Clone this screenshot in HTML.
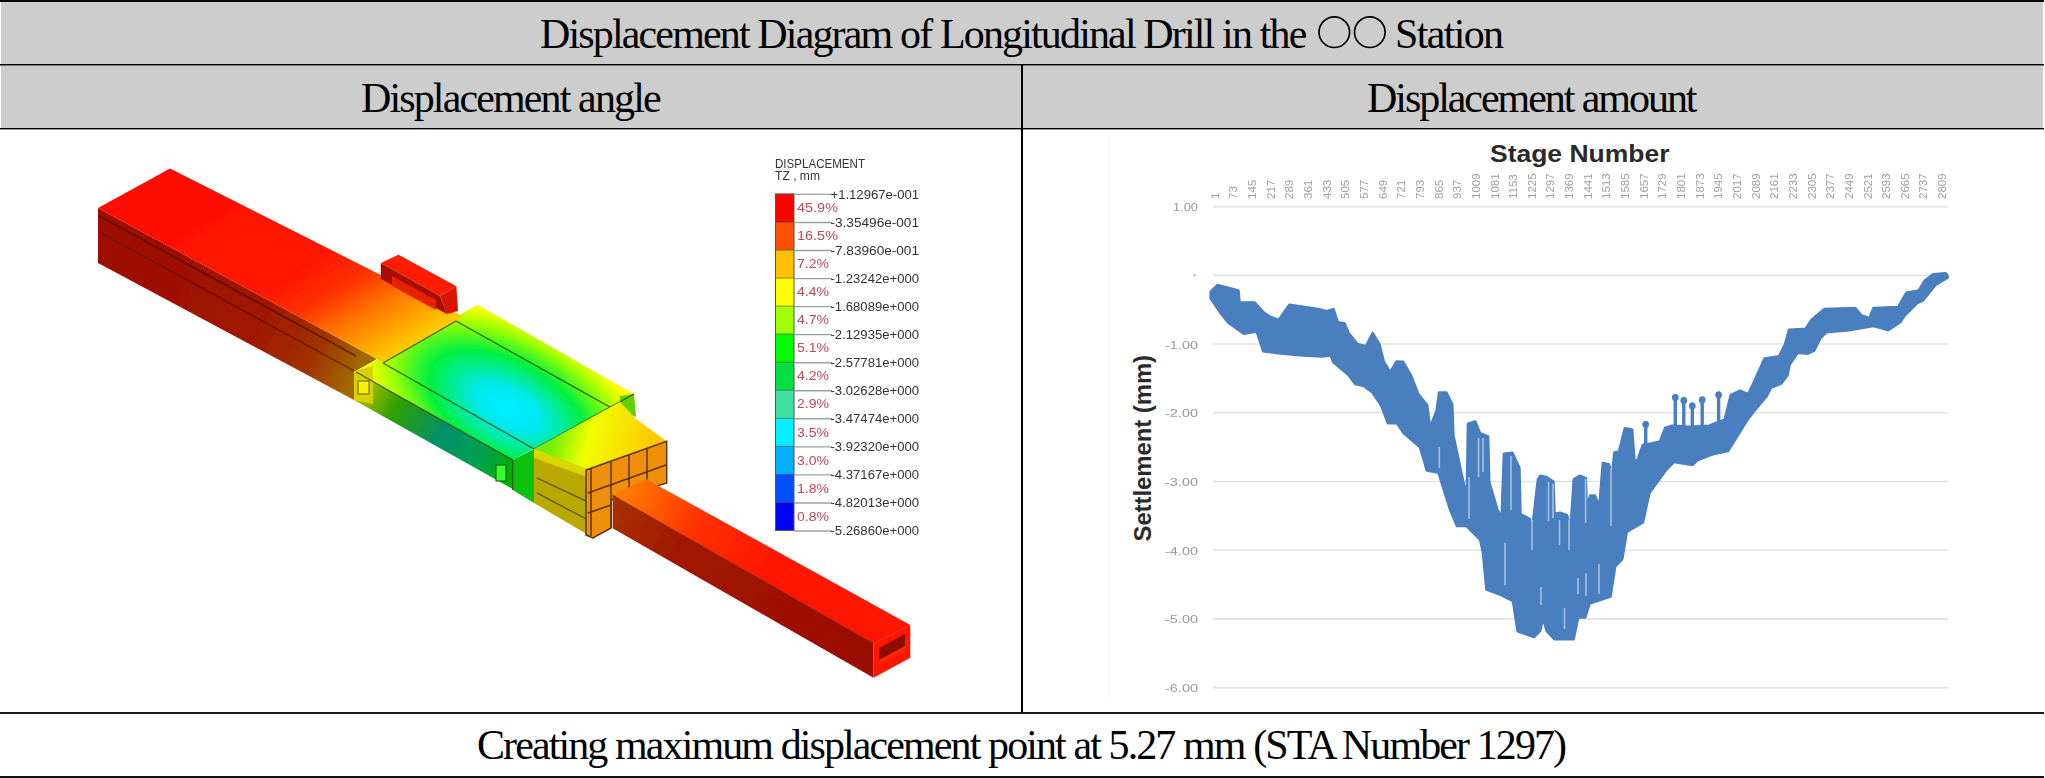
<!DOCTYPE html>
<html><head><meta charset="utf-8">
<style>
html,body{margin:0;padding:0;background:#fff;}
body{width:2045px;height:778px;position:relative;overflow:hidden;font-family:"Liberation Serif",serif;}
.a{position:absolute;}
.t{position:absolute;white-space:nowrap;font-size:42px;letter-spacing:-1.85px;color:#000;line-height:46px;}
svg text{font-family:"Liberation Sans",sans-serif;}
</style></head><body>
<div class="a" style="left:1px;top:2px;width:2042px;height:62px;background:#cdcdcd"></div>
<div class="a" style="left:1px;top:65px;width:2042px;height:63px;background:#cdcdcd"></div>
<div class="a" style="left:0;top:0;width:2044px;height:2px;background:#000"></div>
<div class="a" style="left:0;top:64px;width:2044px;height:1px;background:#000"></div>
<div class="a" style="left:0;top:65px;width:2044px;height:1px;background:#777"></div>
<div class="a" style="left:0;top:128px;width:2044px;height:1px;background:#000"></div>
<div class="a" style="left:0;top:129px;width:2044px;height:1px;background:#999"></div>
<div class="a" style="left:1021px;top:64px;width:2px;height:649px;background:#000"></div>
<div class="a" style="left:0;top:712px;width:2044px;height:2px;background:#1a1a1a"></div>
<div class="a" style="left:0;top:776px;width:2044px;height:2px;background:#111"></div>
<div class="t" style="left:540px;top:11px">Displacement Diagram of Longitudinal Drill in the</div>
<svg class="a" style="left:1310px;top:10px" width="85" height="45"><circle cx="24.3" cy="22.2" r="15.3" fill="none" stroke="#000" stroke-width="1.7"/><circle cx="59.8" cy="22.2" r="15.3" fill="none" stroke="#000" stroke-width="1.7"/></svg>
<div class="t" style="left:1395px;top:11px;letter-spacing:-1.65px">Station</div>
<div class="t" style="left:361px;top:75px;letter-spacing:-1.87px">Displacement angle</div>
<div class="t" style="left:1367px;top:75px;letter-spacing:-2.05px">Displacement amount</div>
<div class="t" style="left:477px;top:722px;letter-spacing:-1.9px">Creating maximum displacement point at 5.27 mm (STA Number 1297)</div>
<svg class="a" style="left:0;top:0" width="2045" height="778">
<g filter="url(#soft)">
<defs>
<filter id="soft" x="-5%" y="-5%" width="110%" height="110%"><feGaussianBlur stdDeviation="0.55"/></filter>
<linearGradient id="gTopA" gradientUnits="userSpaceOnUse" x1="230" y1="190" x2="350" y2="390">
 <stop offset="0" stop-color="#ff1000"/><stop offset="0.45" stop-color="#ff1800"/><stop offset="0.6" stop-color="#ff3000"/><stop offset="0.74" stop-color="#ff7000"/><stop offset="0.88" stop-color="#ffa800"/><stop offset="1" stop-color="#ffd800"/>
</linearGradient>
<linearGradient id="gFrontA" gradientUnits="userSpaceOnUse" x1="98" y1="235" x2="355" y2="375">
 <stop offset="0" stop-color="#9c0e00"/><stop offset="0.6" stop-color="#a01400"/><stop offset="0.85" stop-color="#a03400"/><stop offset="1" stop-color="#a06a00"/>
</linearGradient>
<radialGradient id="gTopMid" gradientUnits="userSpaceOnUse" cx="508" cy="408" r="120" gradientTransform="translate(508 408) rotate(29) scale(1.3 0.7) translate(-508 -408)">
 <stop offset="0" stop-color="#00f0ff"/><stop offset="0.22" stop-color="#00e8f0"/><stop offset="0.55" stop-color="#00f040"/><stop offset="0.82" stop-color="#a0ff00"/><stop offset="1" stop-color="#ffff00"/>
</radialGradient>
<linearGradient id="gFrontMid" gradientUnits="userSpaceOnUse" x1="356" y1="385" x2="512" y2="475">
 <stop offset="0" stop-color="#c8c800"/><stop offset="0.25" stop-color="#30a000"/><stop offset="0.55" stop-color="#00906a"/><stop offset="0.8" stop-color="#00a050"/><stop offset="1" stop-color="#00b000"/>
</linearGradient>
<linearGradient id="gTopR" gradientUnits="userSpaceOnUse" x1="555" y1="430" x2="650" y2="455">
 <stop offset="0" stop-color="#70f000"/><stop offset="0.35" stop-color="#f0ff00"/><stop offset="1" stop-color="#ffc800"/>
</linearGradient>
<linearGradient id="gTopC" gradientUnits="userSpaceOnUse" x1="630" y1="490" x2="780" y2="570">
 <stop offset="0" stop-color="#ff7800"/><stop offset="0.45" stop-color="#ff3000"/><stop offset="1" stop-color="#ff1400"/>
</linearGradient>
<linearGradient id="gFrontC" gradientUnits="userSpaceOnUse" x1="612" y1="510" x2="873" y2="660">
 <stop offset="0" stop-color="#a83000"/><stop offset="0.3" stop-color="#a01400"/><stop offset="1" stop-color="#9a0e00"/>
</linearGradient>
</defs>
<!-- beam A -->
<polygon points="98,208 377,359 356,371 354,400 98,263" fill="url(#gFrontA)"/>
<line x1="99" y1="216" x2="356" y2="356" stroke="#4a0600" stroke-width="1.6" opacity="0.7"/>
<line x1="99" y1="232" x2="356" y2="372" stroke="#4a0600" stroke-width="1.4" opacity="0.55"/>
<!-- mid box top -->
<polygon points="477.6,304.8 634,394 512.7,460 356,371" fill="url(#gTopMid)"/>
<!-- beam A top -->
<polygon points="98,208 170,168.4 462,316 456,321 383,363 377,359" fill="url(#gTopA)"/>
<!-- tab B -->
<polygon points="380.8,263.1 398.5,254.7 456.4,286.3 440,296" fill="#ff1c00"/>
<polygon points="380.8,263.1 440,296 447,314 380.8,279" fill="#a80e00"/>
<polygon points="392,276 436,300 436,310 392,286" fill="#e82000"/>
<polygon points="440,296 456.4,286.3 458,311 447,314" fill="#d81800"/>
<!-- mid box front -->
<polygon points="356,372 512.7,460 512.7,489 354,400" fill="url(#gFrontMid)"/>
<polygon points="354,371 373,366 373,404 354,400" fill="#d8d000"/>
<rect x="358" y="381" width="11" height="13" fill="#f8f000" stroke="#606000" stroke-width="1"/>
<polygon points="512.7,460 534,449 534,503 512.7,490" fill="#10c010"/>
<rect x="496" y="465" width="10" height="16" fill="#30ff30" stroke="#205000" stroke-width="1"/>
<polygon points="620,396 634,394 636,417 620,410" fill="#60d000"/>
<g stroke="#2a4a00" stroke-width="1.3" fill="none" opacity="0.85">
<line x1="456" y1="321" x2="383" y2="363"/>
<line x1="456" y1="321" x2="610" y2="407"/>
<line x1="383" y1="363" x2="534" y2="449"/>
<line x1="634" y1="394" x2="534" y2="449"/>
<line x1="356" y1="372" x2="512.7" y2="460"/>
<line x1="512.7" y1="460" x2="512.7" y2="490"/>
</g>
<!-- right box -->
<polygon points="534,449 620,402 636,419 666.7,441.3 590,470.3" fill="url(#gTopR)"/>
<polygon points="534,449 590,470.3 592.6,537.4 534,503" fill="#b8a800"/>
<polygon points="534,449 590,470.3 590,478 534,458" fill="#d8d800"/>
<line x1="537" y1="478" x2="590" y2="503" stroke="#504800" stroke-width="1.2"/>
<line x1="537" y1="493" x2="590" y2="521" stroke="#504800" stroke-width="1.2"/>
<polygon points="586,470 666.7,441.3 666.7,483 611,500 611,528 593,538 586,535" fill="#ef9010"/>
<g stroke="#5e3200" stroke-width="1.5" fill="none">
<polyline points="586,470 666.7,441.3 666.7,483 611,500 611,528 593,538 586,535 586,470"/>
<line x1="588" y1="493" x2="666" y2="465"/><line x1="588" y1="513" x2="611" y2="505"/>
<line x1="591" y1="468" x2="591" y2="536"/><line x1="611" y1="462" x2="611" y2="528"/><line x1="629" y1="455" x2="629" y2="494"/><line x1="647" y1="448" x2="647" y2="488"/>
</g>
<!-- tube C -->
<polygon points="612.6,495.3 645.6,478.8 910.3,625.1 873.5,643.5" fill="url(#gTopC)"/>
<polygon points="612.6,495.3 873.5,643.5 873.5,677.8 612.6,528.2" fill="url(#gFrontC)"/>
<line x1="612.6" y1="495.3" x2="873.5" y2="643.5" stroke="#6a0800" stroke-width="1" opacity="0.6"/>
<polygon points="873.5,643.5 910.3,625.1 910.3,657.7 873.5,677.8" fill="#ff1400"/>
<polygon points="879,648 905,634 905,649 879,663" fill="#8a0a00"/>
<polygon points="879,660 905,646 905,651 879,665" fill="#ff2800"/>
</g>
<g filter="url(#soft)"><rect x="775.5" y="193.9" width="18.5" height="28.1" fill="#ff0000"/>
<rect x="775.5" y="222.0" width="18.5" height="28.1" fill="#ff5000"/>
<rect x="775.5" y="250.0" width="18.5" height="28.1" fill="#ffc000"/>
<rect x="775.5" y="278.1" width="18.5" height="28.1" fill="#ffff00"/>
<rect x="775.5" y="306.1" width="18.5" height="28.1" fill="#a0ff00"/>
<rect x="775.5" y="334.1" width="18.5" height="28.1" fill="#00ff00"/>
<rect x="775.5" y="362.2" width="18.5" height="28.1" fill="#00e040"/>
<rect x="775.5" y="390.2" width="18.5" height="28.1" fill="#40e0a0"/>
<rect x="775.5" y="418.3" width="18.5" height="28.1" fill="#00f0ff"/>
<rect x="775.5" y="446.4" width="18.5" height="28.1" fill="#00b0ff"/>
<rect x="775.5" y="474.4" width="18.5" height="28.1" fill="#0050ff"/>
<rect x="775.5" y="502.5" width="18.5" height="28.1" fill="#0000ff"/>
<rect x="775.5" y="193.9" width="18.5" height="336.6" fill="none" stroke="#555" stroke-width="1"/>
<line x1="776" y1="222.0" x2="794" y2="222.0" stroke="#333" stroke-width="1" opacity="0.55"/>
<line x1="776" y1="250.0" x2="794" y2="250.0" stroke="#333" stroke-width="1" opacity="0.55"/>
<line x1="776" y1="278.1" x2="794" y2="278.1" stroke="#333" stroke-width="1" opacity="0.55"/>
<line x1="776" y1="306.1" x2="794" y2="306.1" stroke="#333" stroke-width="1" opacity="0.55"/>
<line x1="776" y1="334.1" x2="794" y2="334.1" stroke="#333" stroke-width="1" opacity="0.55"/>
<line x1="776" y1="362.2" x2="794" y2="362.2" stroke="#333" stroke-width="1" opacity="0.55"/>
<line x1="776" y1="390.2" x2="794" y2="390.2" stroke="#333" stroke-width="1" opacity="0.55"/>
<line x1="776" y1="418.3" x2="794" y2="418.3" stroke="#333" stroke-width="1" opacity="0.55"/>
<line x1="776" y1="446.4" x2="794" y2="446.4" stroke="#333" stroke-width="1" opacity="0.55"/>
<line x1="776" y1="474.4" x2="794" y2="474.4" stroke="#333" stroke-width="1" opacity="0.55"/>
<line x1="776" y1="502.5" x2="794" y2="502.5" stroke="#333" stroke-width="1" opacity="0.55"/>
<line x1="794" y1="194.4" x2="832" y2="194.4" stroke="#9aa0a0" stroke-width="1.4"/>
<text x="830.5" y="198.5" font-size="12.5" fill="#333" textLength="88.5" lengthAdjust="spacingAndGlyphs">+1.12967e-001</text>
<line x1="794" y1="222.5" x2="832" y2="222.5" stroke="#9aa0a0" stroke-width="1.4"/>
<text x="830.5" y="226.6" font-size="12.5" fill="#333" textLength="88.5" lengthAdjust="spacingAndGlyphs">-3.35496e-001</text>
<line x1="794" y1="250.5" x2="832" y2="250.5" stroke="#9aa0a0" stroke-width="1.4"/>
<text x="830.5" y="254.6" font-size="12.5" fill="#333" textLength="88.5" lengthAdjust="spacingAndGlyphs">-7.83960e-001</text>
<line x1="794" y1="278.6" x2="832" y2="278.6" stroke="#9aa0a0" stroke-width="1.4"/>
<text x="830.5" y="282.7" font-size="12.5" fill="#333" textLength="88.5" lengthAdjust="spacingAndGlyphs">-1.23242e+000</text>
<line x1="794" y1="306.6" x2="832" y2="306.6" stroke="#9aa0a0" stroke-width="1.4"/>
<text x="830.5" y="310.7" font-size="12.5" fill="#333" textLength="88.5" lengthAdjust="spacingAndGlyphs">-1.68089e+000</text>
<line x1="794" y1="334.6" x2="832" y2="334.6" stroke="#9aa0a0" stroke-width="1.4"/>
<text x="830.5" y="338.8" font-size="12.5" fill="#333" textLength="88.5" lengthAdjust="spacingAndGlyphs">-2.12935e+000</text>
<line x1="794" y1="362.7" x2="832" y2="362.7" stroke="#9aa0a0" stroke-width="1.4"/>
<text x="830.5" y="366.8" font-size="12.5" fill="#333" textLength="88.5" lengthAdjust="spacingAndGlyphs">-2.57781e+000</text>
<line x1="794" y1="390.8" x2="832" y2="390.8" stroke="#9aa0a0" stroke-width="1.4"/>
<text x="830.5" y="394.9" font-size="12.5" fill="#333" textLength="88.5" lengthAdjust="spacingAndGlyphs">-3.02628e+000</text>
<line x1="794" y1="418.8" x2="832" y2="418.8" stroke="#9aa0a0" stroke-width="1.4"/>
<text x="830.5" y="422.9" font-size="12.5" fill="#333" textLength="88.5" lengthAdjust="spacingAndGlyphs">-3.47474e+000</text>
<line x1="794" y1="446.9" x2="832" y2="446.9" stroke="#9aa0a0" stroke-width="1.4"/>
<text x="830.5" y="451.0" font-size="12.5" fill="#333" textLength="88.5" lengthAdjust="spacingAndGlyphs">-3.92320e+000</text>
<line x1="794" y1="474.9" x2="832" y2="474.9" stroke="#9aa0a0" stroke-width="1.4"/>
<text x="830.5" y="479.0" font-size="12.5" fill="#333" textLength="88.5" lengthAdjust="spacingAndGlyphs">-4.37167e+000</text>
<line x1="794" y1="503.0" x2="832" y2="503.0" stroke="#9aa0a0" stroke-width="1.4"/>
<text x="830.5" y="507.1" font-size="12.5" fill="#333" textLength="88.5" lengthAdjust="spacingAndGlyphs">-4.82013e+000</text>
<line x1="794" y1="531.0" x2="832" y2="531.0" stroke="#9aa0a0" stroke-width="1.4"/>
<text x="830.5" y="535.1" font-size="12.5" fill="#333" textLength="88.5" lengthAdjust="spacingAndGlyphs">-5.26860e+000</text>
<text x="797" y="212.1" font-size="13" fill="#c04858" textLength="41" lengthAdjust="spacingAndGlyphs">45.9%</text>
<text x="797" y="240.2" font-size="13" fill="#c04858" textLength="41" lengthAdjust="spacingAndGlyphs">16.5%</text>
<text x="797" y="268.2" font-size="13" fill="#c04858" textLength="32" lengthAdjust="spacingAndGlyphs">7.2%</text>
<text x="797" y="296.2" font-size="13" fill="#c04858" textLength="32" lengthAdjust="spacingAndGlyphs">4.4%</text>
<text x="797" y="324.3" font-size="13" fill="#c04858" textLength="32" lengthAdjust="spacingAndGlyphs">4.7%</text>
<text x="797" y="352.3" font-size="13" fill="#c04858" textLength="32" lengthAdjust="spacingAndGlyphs">5.1%</text>
<text x="797" y="380.4" font-size="13" fill="#c04858" textLength="32" lengthAdjust="spacingAndGlyphs">4.2%</text>
<text x="797" y="408.4" font-size="13" fill="#c04858" textLength="32" lengthAdjust="spacingAndGlyphs">2.9%</text>
<text x="797" y="436.5" font-size="13" fill="#c04858" textLength="32" lengthAdjust="spacingAndGlyphs">3.5%</text>
<text x="797" y="464.6" font-size="13" fill="#c04858" textLength="32" lengthAdjust="spacingAndGlyphs">3.0%</text>
<text x="797" y="492.6" font-size="13" fill="#c04858" textLength="32" lengthAdjust="spacingAndGlyphs">1.8%</text>
<text x="797" y="520.7" font-size="13" fill="#c04858" textLength="32" lengthAdjust="spacingAndGlyphs">0.8%</text>
<text x="775" y="167.5" font-size="12" fill="#333" textLength="90" lengthAdjust="spacingAndGlyphs">DISPLACEMENT</text>
<text x="775" y="180" font-size="12" fill="#333" textLength="45" lengthAdjust="spacingAndGlyphs">TZ , mm</text>
</g>
<line x1="1108.5" y1="134" x2="1108.5" y2="700" stroke="#f6f6f6" stroke-width="1"/>
<line x1="1213" y1="206.6" x2="1948" y2="206.6" stroke="#e3e3e3" stroke-width="1.6"/>
<line x1="1213" y1="275.3" x2="1948" y2="275.3" stroke="#e3e3e3" stroke-width="1.6"/>
<line x1="1213" y1="344.0" x2="1948" y2="344.0" stroke="#e3e3e3" stroke-width="1.6"/>
<line x1="1213" y1="412.7" x2="1948" y2="412.7" stroke="#e3e3e3" stroke-width="1.6"/>
<line x1="1213" y1="481.5" x2="1948" y2="481.5" stroke="#e3e3e3" stroke-width="1.6"/>
<line x1="1213" y1="550.2" x2="1948" y2="550.2" stroke="#e3e3e3" stroke-width="1.6"/>
<line x1="1213" y1="618.9" x2="1948" y2="618.9" stroke="#e3e3e3" stroke-width="1.6"/>
<line x1="1213" y1="687.6" x2="1948" y2="687.6" stroke="#e3e3e3" stroke-width="1.6"/>

<g filter="url(#soft)"><text x="1173" y="211.1" font-size="11" fill="#999" textLength="25" lengthAdjust="spacingAndGlyphs">1.00</text>
<rect x="1193.5" y="274.3" width="2" height="2" fill="#aaa"/>
<text x="1165" y="348.5" font-size="11" fill="#999" textLength="33" lengthAdjust="spacingAndGlyphs">-1.00</text>
<text x="1165" y="417.2" font-size="11" fill="#999" textLength="33" lengthAdjust="spacingAndGlyphs">-2.00</text>
<text x="1165" y="486.0" font-size="11" fill="#999" textLength="33" lengthAdjust="spacingAndGlyphs">-3.00</text>
<text x="1165" y="554.7" font-size="11" fill="#999" textLength="33" lengthAdjust="spacingAndGlyphs">-4.00</text>
<text x="1165" y="623.4" font-size="11" fill="#999" textLength="33" lengthAdjust="spacingAndGlyphs">-5.00</text>
<text x="1165" y="692.1" font-size="11" fill="#999" textLength="33" lengthAdjust="spacingAndGlyphs">-6.00</text>

<text transform="translate(1218.7,199) rotate(-90)" font-size="11.5" fill="#a0a0a0">1</text>
<text transform="translate(1237.4,199) rotate(-90)" font-size="11.5" fill="#a0a0a0">73</text>
<text transform="translate(1256.0,199) rotate(-90)" font-size="11.5" fill="#a0a0a0">145</text>
<text transform="translate(1274.7,199) rotate(-90)" font-size="11.5" fill="#a0a0a0">217</text>
<text transform="translate(1293.3,199) rotate(-90)" font-size="11.5" fill="#a0a0a0">289</text>
<text transform="translate(1312.0,199) rotate(-90)" font-size="11.5" fill="#a0a0a0">361</text>
<text transform="translate(1330.6,199) rotate(-90)" font-size="11.5" fill="#a0a0a0">433</text>
<text transform="translate(1349.2,199) rotate(-90)" font-size="11.5" fill="#a0a0a0">505</text>
<text transform="translate(1367.9,199) rotate(-90)" font-size="11.5" fill="#a0a0a0">577</text>
<text transform="translate(1386.5,199) rotate(-90)" font-size="11.5" fill="#a0a0a0">649</text>
<text transform="translate(1405.2,199) rotate(-90)" font-size="11.5" fill="#a0a0a0">721</text>
<text transform="translate(1423.8,199) rotate(-90)" font-size="11.5" fill="#a0a0a0">793</text>
<text transform="translate(1442.5,199) rotate(-90)" font-size="11.5" fill="#a0a0a0">865</text>
<text transform="translate(1461.2,199) rotate(-90)" font-size="11.5" fill="#a0a0a0">937</text>
<text transform="translate(1479.8,199) rotate(-90)" font-size="11.5" fill="#a0a0a0">1009</text>
<text transform="translate(1498.5,199) rotate(-90)" font-size="11.5" fill="#a0a0a0">1081</text>
<text transform="translate(1517.1,199) rotate(-90)" font-size="11.5" fill="#a0a0a0">1153</text>
<text transform="translate(1535.8,199) rotate(-90)" font-size="11.5" fill="#a0a0a0">1225</text>
<text transform="translate(1554.4,199) rotate(-90)" font-size="11.5" fill="#a0a0a0">1297</text>
<text transform="translate(1573.0,199) rotate(-90)" font-size="11.5" fill="#a0a0a0">1369</text>
<text transform="translate(1591.7,199) rotate(-90)" font-size="11.5" fill="#a0a0a0">1441</text>
<text transform="translate(1610.3,199) rotate(-90)" font-size="11.5" fill="#a0a0a0">1513</text>
<text transform="translate(1629.0,199) rotate(-90)" font-size="11.5" fill="#a0a0a0">1585</text>
<text transform="translate(1647.7,199) rotate(-90)" font-size="11.5" fill="#a0a0a0">1657</text>
<text transform="translate(1666.3,199) rotate(-90)" font-size="11.5" fill="#a0a0a0">1729</text>
<text transform="translate(1685.0,199) rotate(-90)" font-size="11.5" fill="#a0a0a0">1801</text>
<text transform="translate(1703.6,199) rotate(-90)" font-size="11.5" fill="#a0a0a0">1873</text>
<text transform="translate(1722.2,199) rotate(-90)" font-size="11.5" fill="#a0a0a0">1945</text>
<text transform="translate(1740.9,199) rotate(-90)" font-size="11.5" fill="#a0a0a0">2017</text>
<text transform="translate(1759.5,199) rotate(-90)" font-size="11.5" fill="#a0a0a0">2089</text>
<text transform="translate(1778.2,199) rotate(-90)" font-size="11.5" fill="#a0a0a0">2161</text>
<text transform="translate(1796.8,199) rotate(-90)" font-size="11.5" fill="#a0a0a0">2233</text>
<text transform="translate(1815.5,199) rotate(-90)" font-size="11.5" fill="#a0a0a0">2305</text>
<text transform="translate(1834.2,199) rotate(-90)" font-size="11.5" fill="#a0a0a0">2377</text>
<text transform="translate(1852.8,199) rotate(-90)" font-size="11.5" fill="#a0a0a0">2449</text>
<text transform="translate(1871.5,199) rotate(-90)" font-size="11.5" fill="#a0a0a0">2521</text>
<text transform="translate(1890.1,199) rotate(-90)" font-size="11.5" fill="#a0a0a0">2593</text>
<text transform="translate(1908.8,199) rotate(-90)" font-size="11.5" fill="#a0a0a0">2665</text>
<text transform="translate(1927.4,199) rotate(-90)" font-size="11.5" fill="#a0a0a0">2737</text>
<text transform="translate(1946.0,199) rotate(-90)" font-size="11.5" fill="#a0a0a0">2809</text>
</g>
<text x="1490" y="161.5" font-size="23" font-weight="bold" fill="#2a2a2a" textLength="179.5" lengthAdjust="spacingAndGlyphs">Stage Number</text>
<text transform="translate(1150.5,541.5) rotate(-90)" font-size="23" font-weight="bold" fill="#2a2a2a" textLength="186.5" lengthAdjust="spacingAndGlyphs">Settlement (mm)</text>
<g filter="url(#soft)"><polygon points="1210.9,291.9 1217.5,285.3 1238.3,290.8 1239.3,302.8 1254.6,302.8 1263.4,312.6 1270,317 1278.7,320.3 1286.3,309.3 1289.6,305 1318,309.3 1326.8,311.5 1333.3,309.3 1337.7,322.5 1344.3,323.6 1348.6,333.4 1357.4,344.3 1366.1,346.5 1372.7,333.4 1379.2,344.3 1383.6,361.8 1390.2,372.7 1396.7,361.8 1403,362 1411,376 1418,394 1427,405.5 1430,428.6 1437,410 1439.3,392.7 1446.2,392.7 1452,404.3 1453.2,435.6 1460.1,468 1464.7,488.8 1467,495.8 1468.2,424 1475.2,421.7 1479.8,433.3 1487.9,436.7 1489,481.9 1497.2,509.7 1501.8,519 1504.1,454.1 1512.2,453 1519.2,468 1520.3,514.3 1529.6,519 1532.3,530 1538.1,479.5 1540.4,476 1546.2,477.2 1553.2,481.8 1554.3,514.2 1560.1,513 1567,515.4 1570.5,532 1574,479.5 1579.8,476 1585.6,478.3 1586.7,512 1590.2,495.7 1594.8,495.7 1599.5,507.3 1603,463.3 1608.7,464.4 1612.2,477.2 1614.5,452.8 1619.2,451.7 1625,428.5 1631.9,429.7 1634.2,460 1637,462 1643.1,445 1651.3,443.7 1660.1,441.7 1665.4,428 1672,426 1690,427 1709.4,426 1714,424 1724.8,420 1731,395 1740.3,390.8 1748.2,394.7 1756.4,377.2 1764.7,358.7 1779.1,356.6 1785.2,344.3 1789.3,329.9 1805.8,328.9 1812,319.6 1824.3,309.3 1855.1,308.3 1861.3,315.5 1869.5,318.6 1873.6,308.3 1898.3,307.3 1906.5,292.9 1918.9,290.8 1925,280.6 1933.3,274.4 1945.6,273.4 1947.6,276.4 1947.6,277.5 1935.3,284.7 1923,300.1 1916.8,303.2 1904.5,315.5 1900.4,321.7 1888,329.9 1873.6,325.8 1849,329.9 1826.3,332 1820.2,338.1 1814,350.5 1807.8,353.5 1797.6,352.5 1789.3,364.9 1787.3,375.1 1781.1,383.4 1770.8,387.5 1766.7,395.7 1756.4,408 1748,418.5 1727.9,450.9 1712.5,454 1697.1,460.2 1692.5,464.8 1674,461.7 1666.3,469.4 1649.3,492.5 1642.8,522.3 1626.6,531.6 1622,559.3 1615,566.3 1610.4,596.3 1589.5,603.3 1585,617.2 1578,617.2 1573.4,639.1 1554.8,639.1 1546.8,631 1543.3,617.2 1539.8,631 1534,636.8 1517.8,631 1513.2,601 1499.3,594 1486.6,589.4 1483.1,552.4 1480.4,539.7 1466.5,525.8 1457.2,525.8 1450.3,509.6 1438.7,472.6 1427,470.3 1420.2,447.1 1404,433.2 1397,422.8 1388,423 1381.4,405.5 1372.7,392.4 1363.9,385.8 1355.2,383.7 1348.6,374.9 1333.3,361.8 1331.1,355.2 1322.4,356.3 1302.7,355.2 1278.7,353.1 1263.4,350.9 1256.8,331.2 1243.7,333.4 1228.4,322.5 1219.7,311.5 1210.9,298.4" fill="#4a7ebf" stroke="#4a7ebf" stroke-width="3" stroke-linejoin="round"/><line x1="1505" y1="543" x2="1505" y2="585" stroke="#ffffff" stroke-width="1.6" opacity="0.5"/><line x1="1532" y1="520" x2="1532" y2="550" stroke="#ffffff" stroke-width="1.6" opacity="0.5"/><line x1="1541" y1="587" x2="1541" y2="605" stroke="#ffffff" stroke-width="1.6" opacity="0.5"/><line x1="1559.5" y1="520" x2="1559.5" y2="545" stroke="#ffffff" stroke-width="1.6" opacity="0.5"/><line x1="1569" y1="520" x2="1569" y2="550" stroke="#ffffff" stroke-width="1.6" opacity="0.5"/><line x1="1564.5" y1="608" x2="1564.5" y2="629" stroke="#ffffff" stroke-width="1.6" opacity="0.5"/><line x1="1578" y1="578" x2="1578" y2="594" stroke="#ffffff" stroke-width="1.6" opacity="0.5"/><line x1="1586" y1="573" x2="1586" y2="596" stroke="#ffffff" stroke-width="1.6" opacity="0.5"/><line x1="1599" y1="564" x2="1599" y2="594" stroke="#ffffff" stroke-width="1.6" opacity="0.5"/><line x1="1439.3" y1="447" x2="1439.3" y2="468" stroke="#ffffff" stroke-width="1.6" opacity="0.5"/><line x1="1478.6" y1="438" x2="1478.6" y2="477" stroke="#ffffff" stroke-width="1.6" opacity="0.5"/><line x1="1483" y1="438" x2="1483" y2="472" stroke="#ffffff" stroke-width="1.6" opacity="0.5"/><line x1="1511" y1="456" x2="1511" y2="510" stroke="#ffffff" stroke-width="1.6" opacity="0.5"/><line x1="1469" y1="477" x2="1469" y2="519" stroke="#ffffff" stroke-width="1.6" opacity="0.5"/><line x1="1548.5" y1="482" x2="1548.5" y2="521" stroke="#ffffff" stroke-width="1.6" opacity="0.5"/><line x1="1553" y1="484" x2="1553" y2="518" stroke="#ffffff" stroke-width="1.6" opacity="0.5"/><line x1="1585.6" y1="479" x2="1585.6" y2="523" stroke="#ffffff" stroke-width="1.6" opacity="0.5"/><line x1="1611" y1="468" x2="1611" y2="526" stroke="#ffffff" stroke-width="1.6" opacity="0.5"/><line x1="1645.7" y1="422.5" x2="1645.7" y2="450" stroke="#4a7ebf" stroke-width="3.4" stroke-linecap="round"/><circle cx="1645.7" cy="424.5" r="3.4" fill="#4a7ebf"/><line x1="1675.3" y1="395.5" x2="1675.3" y2="430" stroke="#4a7ebf" stroke-width="3.4" stroke-linecap="round"/><circle cx="1675.3" cy="397.5" r="3.4" fill="#4a7ebf"/><line x1="1683.8" y1="398.5" x2="1683.8" y2="430" stroke="#4a7ebf" stroke-width="3.4" stroke-linecap="round"/><circle cx="1683.8" cy="400.5" r="3.4" fill="#4a7ebf"/><line x1="1692.3" y1="404" x2="1692.3" y2="430" stroke="#4a7ebf" stroke-width="3.4" stroke-linecap="round"/><circle cx="1692.3" cy="406" r="3.4" fill="#4a7ebf"/><line x1="1702.2" y1="398" x2="1702.2" y2="430" stroke="#4a7ebf" stroke-width="3.4" stroke-linecap="round"/><circle cx="1702.2" cy="400" r="3.4" fill="#4a7ebf"/><line x1="1718.6" y1="393" x2="1718.6" y2="426" stroke="#4a7ebf" stroke-width="3.4" stroke-linecap="round"/><circle cx="1718.6" cy="395" r="3.4" fill="#4a7ebf"/></g>
</svg>
</body></html>
